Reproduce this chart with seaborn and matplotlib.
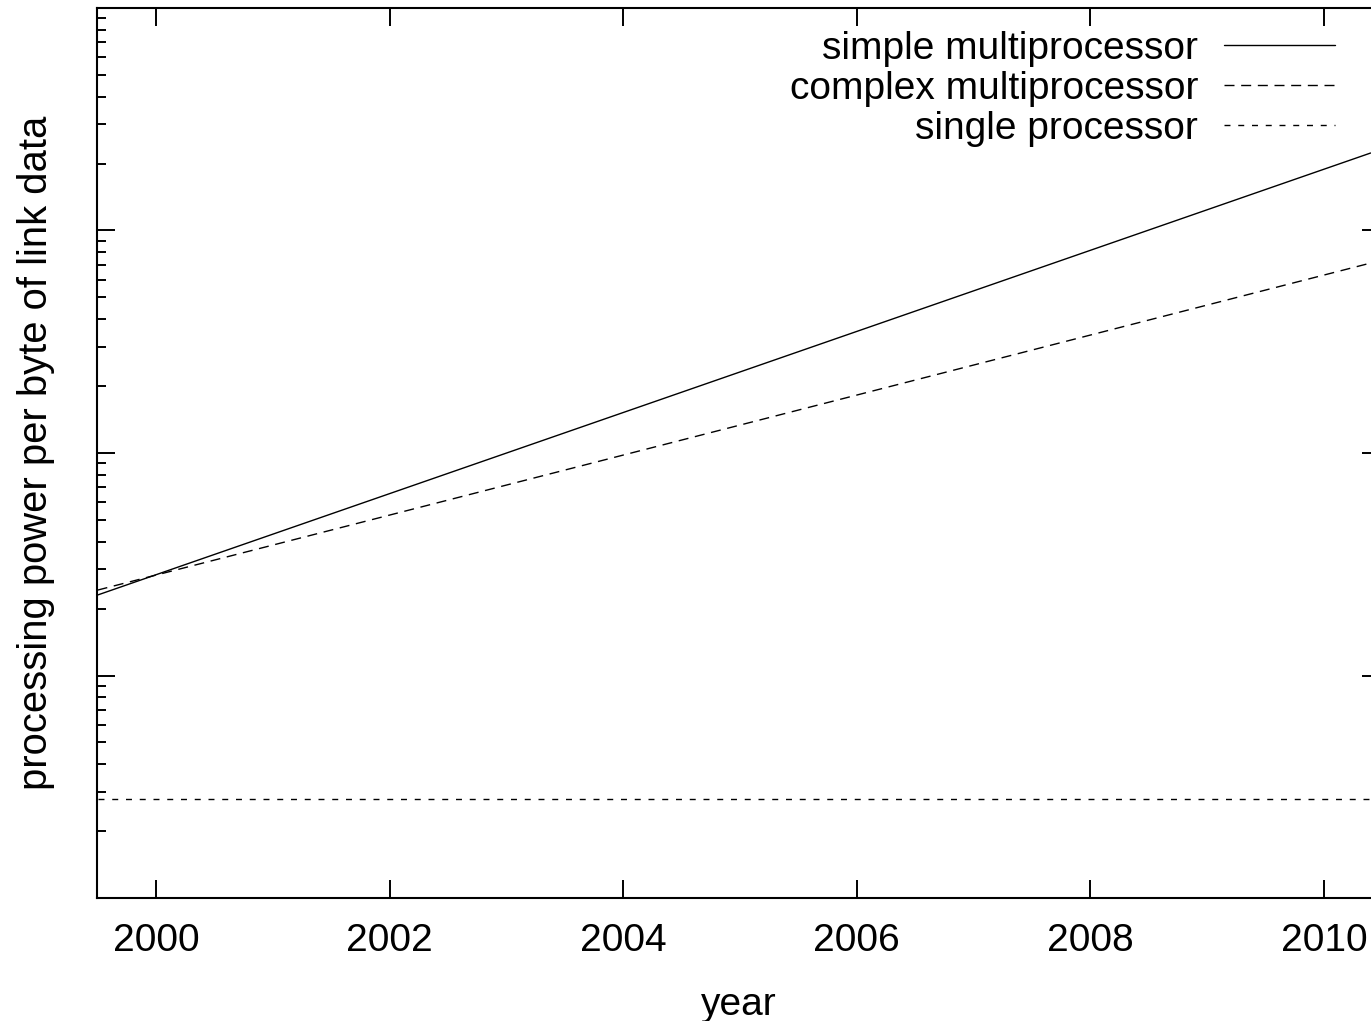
import numpy as np
import pandas as pd
import matplotlib
matplotlib.use("Agg")
import matplotlib.pyplot as plt
import seaborn as sns
from matplotlib.ticker import NullFormatter, LogLocator

# Donnees (extremites des droites, echelle log)
annees = [1999.5, 2010.4]
simple_multi = [23.0, 2230.0]
complex_multi = [24.2, 714.0]
single_proc = [2.79, 2.79]

series = ["simple multiprocessor", "complex multiprocessor", "single processor"]
styles = ["-", (0, (7.2, 4.8)), (0, (4.3, 5.6))]

df = pd.DataFrame({
    "year": annees * 3,
    "value": simple_multi + complex_multi + single_proc,
    "serie": [s for s in series for _ in annees],
})

sns.set_theme(style="ticks")
plt.rcParams['font.family'] = ['Liberation Sans', 'DejaVu Sans']
plt.rcParams['text.color'] = 'black'
plt.rcParams['axes.labelcolor'] = 'black'
plt.rcParams['xtick.color'] = 'black'
plt.rcParams['ytick.color'] = 'black'

fig = plt.figure(figsize=(13.71, 10.21), dpi=100)
# le cadre droit sort legerement de l'image, comme sur l'original
ax = fig.add_axes([97 / 1371, 123 / 1021, (1380 - 97) / 1371, (898 - 8) / 1021])

for s, ls in zip(series, styles):
    sns.lineplot(data=df[df["serie"] == s], x="year", y="value", ax=ax,
                 color="black", linewidth=1.0, linestyle=ls, label=s, legend=False)

ax.set_yscale("log")
ax.set_ylim(1, 1e4)
ax.set_xlim(1999.495, 2010.48)
ax.set_xticks([2000, 2002, 2004, 2006, 2008, 2010])
ax.yaxis.set_major_locator(LogLocator(base=10))
ax.yaxis.set_minor_locator(LogLocator(base=10, subs=np.arange(2, 10)))
ax.yaxis.set_major_formatter(NullFormatter())
ax.yaxis.set_minor_formatter(NullFormatter())

ax.tick_params(which="both", direction="in", top=True, right=True,
               labelleft=False, width=1.4, colors="black")
ax.tick_params(which="major", length=13, labelsize=28, pad=18)
ax.tick_params(which="minor", length=6.5)
ax.tick_params(axis="x", which="minor", bottom=False, top=False)
for sp in ax.spines.values():
    sp.set_linewidth(1.5)
    sp.set_color("black")

ax.set_xlabel("year", fontsize=28, labelpad=20)
ax.set_ylabel("processing power per byte of link data", fontsize=28.8, labelpad=30)

ax.legend(loc="upper right", bbox_to_anchor=(1335 / 1371, (1021 - 31) / 1021),
          bbox_transform=fig.transFigure, frameon=False, fontsize=28,
          markerfirst=False, handlelength=2.85, handletextpad=0.67,
          labelspacing=0.1, borderpad=0, borderaxespad=0)

fig.savefig("out.png", dpi=100, facecolor="white")
